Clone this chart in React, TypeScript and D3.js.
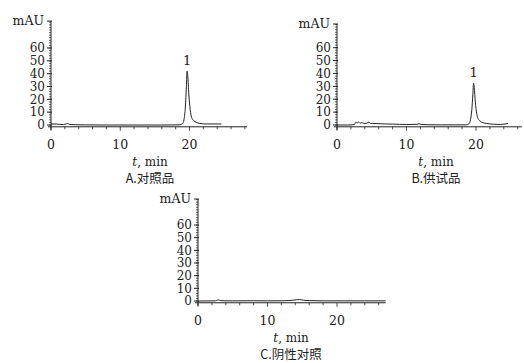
import { useMemo } from "react";
import * as d3 from "d3";

// chromatogram traces: retention time (min) and absorbance (mAU)
const timesA = [0, 0.8, 1.2, 1.8, 2.2, 2.4, 2.7, 3.5, 5, 8, 12, 16, 18.5, 19.0, 19.2, 19.4, 19.55, 19.65, 19.75, 19.9, 20.1, 20.3, 20.6, 21.0, 21.5, 22.5, 24.6];
const valuesA = [0.8, 0.7, 0.5, 0.3, 0.9, 1.2, 0.4, 0.2, 0.1, 0, 0, 0, 0.1, 1.0, 4, 14, 30, 42, 38, 24, 12, 6, 3.5, 2, 1.2, 0.8, 0.8];

const timesB = [0, 1.5, 2.5, 2.7, 2.9, 3.1, 3.3, 3.5, 3.8, 4.0, 4.3, 4.6, 4.8, 5.1, 6, 7, 8, 9, 10, 11.5, 11.8, 12.1, 13, 15, 18.6, 19.0, 19.2, 19.4, 19.55, 19.65, 19.75, 19.9, 20.1, 20.3, 20.6, 21, 21.5, 22.5, 23.5, 24.2, 24.6];
const valuesB = [0, 0, 0.3, 2.2, 1.5, 2.4, 1.3, 1.8, 1.4, 1.2, 1.4, 2.3, 1.3, 1.2, 1.0, 0.8, 0.7, 0.5, 0.4, 0.5, 1.0, 0.4, 0.2, 0.1, 0.1, 1.0, 4, 12, 24, 32.5, 29, 18, 9, 5, 3, 1.8, 1.2, 0.6, 0.4, 0.8, 1.2];

const timesC = [0, 2.5, 2.9, 3.3, 5, 8, 10, 12.5, 13.5, 14.2, 14.6, 15.2, 16, 18, 22, 24, 27];
const valuesC = [0, 0.1, 0.9, 0.2, 0.1, 0.2, 0.1, 0.2, 0.5, 1.0, 1.1, 0.6, 0.3, 0.1, 0.1, 0.1, 0.1];

const yTickLabels = [0, 10, 20, 30, 40, 50, 60];
const xTickLabels = [0, 10, 20];
const panelTitles = ["A.对照品", "B.供试品", "C.阴性对照"];
const peakLabel = "1";
const peakIndexA = 17;
const peakIndexB = 29;

const serif = "'DejaVu Serif', serif";
const cjk = "'Noto Sans CJK SC', sans-serif";

interface PanelProps {
    times: number[];
    values: number[];
    title: string;
    xRange: [number, number]; // pixel of t=0 and t=20
    yRange: [number, number]; // pixel of 0 and 60 mAU
    xMax: number;
    yTop: number;
    titleX: number;
    peak?: number;
}

const Panel: React.FC<PanelProps> = ({ times, values, title, xRange, yRange, xMax, yTop, titleX, peak }) => {
    const x = d3.scaleLinear().domain([0, 20]).range(xRange);
    const y = d3.scaleLinear().domain([0, 60]).range(yRange);
    const yBottom = -1.4;
    const axisY = y(yBottom);
    const axisX = x(0);

    const path = useMemo(() => {
        const pts = times.map((t, i) => [t, values[i]] as [number, number]);
        return d3.line<[number, number]>()
            .x(d => x(d[0]))
            .y(d => y(d[1]))
            .curve(d3.curveMonotoneX)(pts);
    }, [times, values]);

    const yMinor = d3.range(0, yTop, 2);
    const xMinor = d3.range(0, xMax, 2);
    const stroke = "#222";

    return (
        <g>
            {/* y axis */}
            <line x1={axisX} x2={axisX} y1={y(yTop)} y2={axisY + 3} stroke={stroke} strokeWidth={1} />
            {yMinor.map(v => (
                <line key={"ym" + v} x1={axisX - 2} x2={axisX} y1={y(v)} y2={y(v)} stroke={stroke} strokeWidth={0.7} />
            ))}
            {yTickLabels.map(v => (
                <g key={"yt" + v}>
                    <line x1={axisX - 4} x2={axisX + 1} y1={y(v)} y2={y(v)} stroke={stroke} strokeWidth={1} />
                    <text x={axisX - 6} y={y(v)} dy="0.36em" textAnchor="end" fontFamily={serif} fontSize={12} fill="#222">{v}</text>
                </g>
            ))}
            <line x1={axisX - 4} x2={axisX + 1} y1={y(yTop)} y2={y(yTop)} stroke={stroke} strokeWidth={1} />
            <text x={axisX - 7} y={y(yTop) + 4} textAnchor="end" fontFamily={serif} fontSize={12.5} fill="#222">mAU</text>

            {/* x axis */}
            <line x1={axisX - 3} x2={x(xMax)} y1={axisY} y2={axisY} stroke={stroke} strokeWidth={1} />
            {xMinor.map(v => (
                <line key={"xm" + v} x1={x(v)} x2={x(v)} y1={axisY} y2={axisY + (v % 10 === 0 ? 4 : 2.5)} stroke={stroke} strokeWidth={0.8} />
            ))}
            {xTickLabels.map(v => (
                <text key={"xt" + v} x={x(v)} y={axisY + 22.5} textAnchor="middle" fontFamily={serif} fontSize={12.5} fill="#222">{v}</text>
            ))}
            <text x={titleX} y={axisY + 39} textAnchor="middle" fontFamily={serif} fontSize={12} fill="#222">
                <tspan fontStyle="italic">t</tspan>, min
            </text>
            <text x={titleX} y={axisY + 56.5} textAnchor="middle" fontFamily={cjk} fontSize={12.5} fill="#222">{title}</text>

            {/* trace */}
            <path d={path ?? ""} fill="none" stroke="#222" strokeWidth={1} />
            {peak !== undefined && (
                <text x={x(times[peak])} y={y(values[peak]) - 6} textAnchor="middle" fontFamily={serif} fontSize={13} fill="#222">{peakLabel}</text>
            )}
        </g>
    );
};

export default function App() {
    return (
        <svg width={524} height={363} style={{ position: "absolute", left: 0, top: 0, background: "#fff" }}>
            <Panel times={timesA} values={valuesA} title={panelTitles[0]} xRange={[51, 189.5]} yRange={[125, 48]}
                xMax={28.3} yTop={81} titleX={150} peak={peakIndexA} />
            <Panel times={timesB} values={valuesB} title={panelTitles[1]} xRange={[337, 476]} yRange={[125, 47.7]}
                xMax={26.6} yTop={78.4} titleX={436} peak={peakIndexB} />
            <Panel times={timesC} values={valuesC} title={panelTitles[2]} xRange={[198, 337]} yRange={[301, 225]}
                xMax={27} yTop={80.5} titleX={291} />
        </svg>
    );
}
